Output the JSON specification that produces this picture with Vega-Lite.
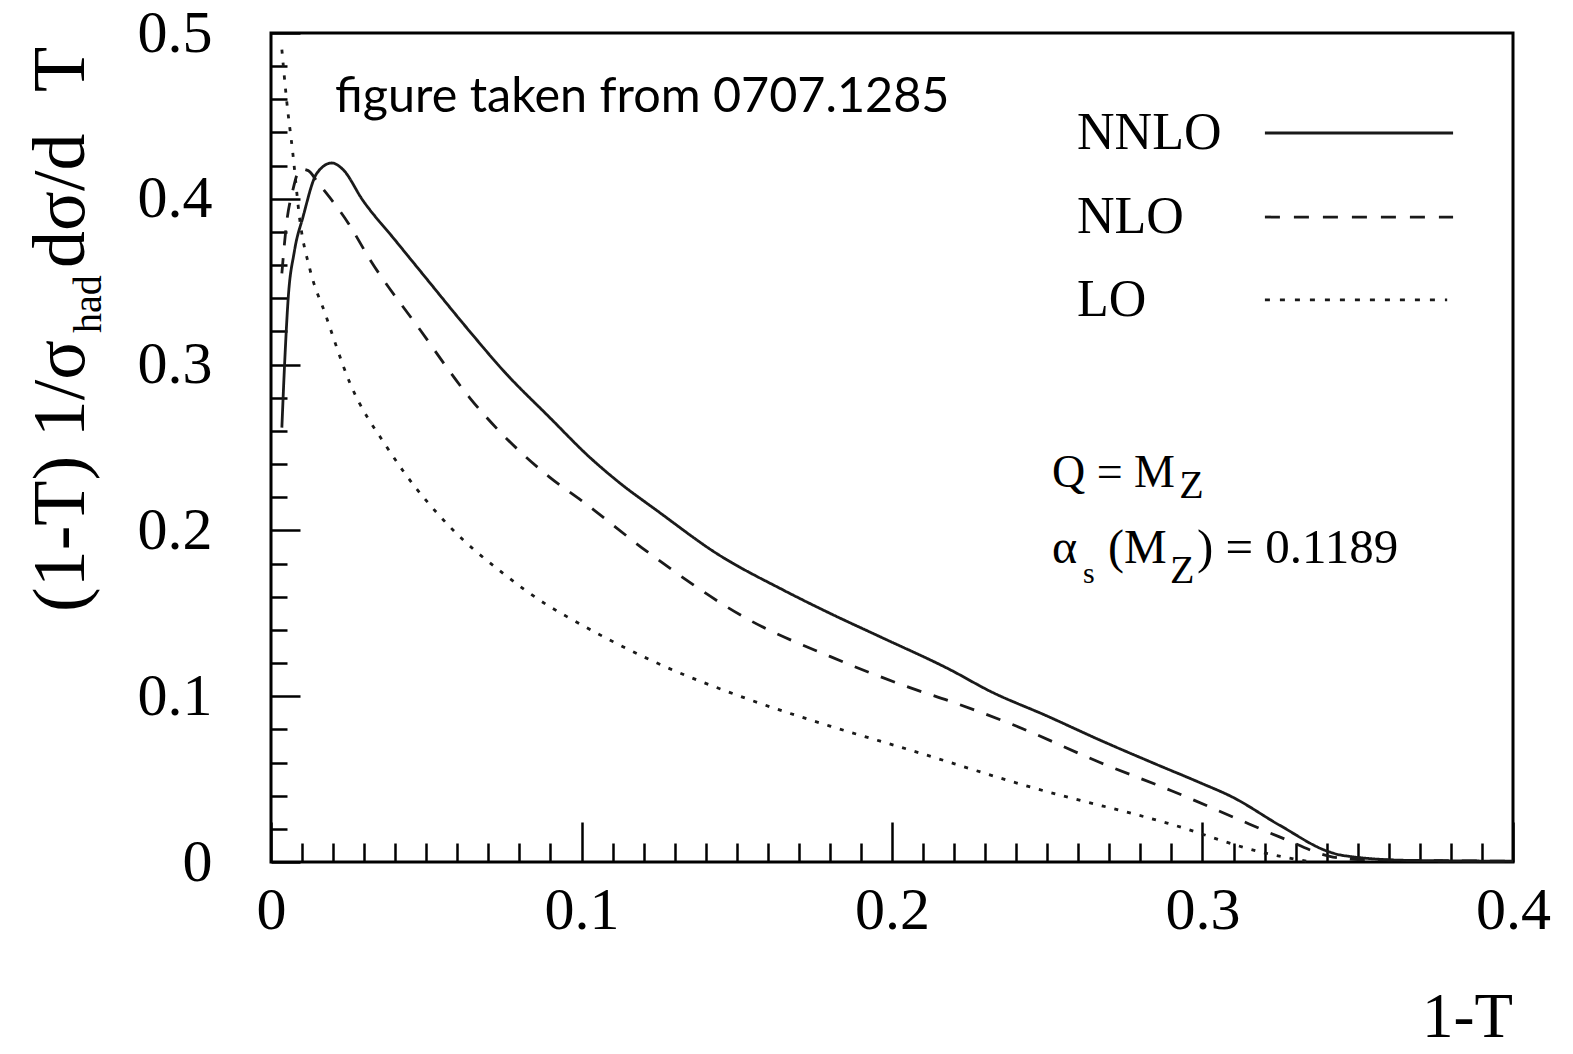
{
  "$schema": "https://vega.github.io/schema/vega-lite/v6.json",
  "autosize": {"type": "none"},
  "padding": {"left": 271, "top": 33, "right": 60, "bottom": 192},
  "width": 1242,
  "height": 829,
  "background": "white",
  "config": {"view": {"stroke": "#000", "strokeWidth": 3}},
  "datasets": {
    "one": [{}],
    "curves": [
      {"series": "NNLO", "t": 0.0035, "v": 0.262},
      {"series": "NNLO", "t": 0.0045, "v": 0.305},
      {"series": "NNLO", "t": 0.0055, "v": 0.339},
      {"series": "NNLO", "t": 0.0075, "v": 0.368},
      {"series": "NNLO", "t": 0.0103, "v": 0.389},
      {"series": "NNLO", "t": 0.0148, "v": 0.4155},
      {"series": "NNLO", "t": 0.0196, "v": 0.4216},
      {"series": "NNLO", "t": 0.023, "v": 0.418},
      {"series": "NNLO", "t": 0.0296, "v": 0.399},
      {"series": "NNLO", "t": 0.04, "v": 0.375},
      {"series": "NNLO", "t": 0.05, "v": 0.352},
      {"series": "NNLO", "t": 0.064, "v": 0.32},
      {"series": "NNLO", "t": 0.075, "v": 0.296},
      {"series": "NNLO", "t": 0.0898, "v": 0.268},
      {"series": "NNLO", "t": 0.1027, "v": 0.244},
      {"series": "NNLO", "t": 0.1114, "v": 0.23},
      {"series": "NNLO", "t": 0.125, "v": 0.211},
      {"series": "NNLO", "t": 0.1436, "v": 0.186},
      {"series": "NNLO", "t": 0.165, "v": 0.164},
      {"series": "NNLO", "t": 0.18, "v": 0.15},
      {"series": "NNLO", "t": 0.196, "v": 0.136},
      {"series": "NNLO", "t": 0.2187, "v": 0.116},
      {"series": "NNLO", "t": 0.2316, "v": 0.103},
      {"series": "NNLO", "t": 0.25, "v": 0.088},
      {"series": "NNLO", "t": 0.267, "v": 0.0735},
      {"series": "NNLO", "t": 0.285, "v": 0.059},
      {"series": "NNLO", "t": 0.299, "v": 0.048},
      {"series": "NNLO", "t": 0.3098, "v": 0.039},
      {"series": "NNLO", "t": 0.325, "v": 0.022},
      {"series": "NNLO", "t": 0.341, "v": 0.006},
      {"series": "NNLO", "t": 0.345, "v": 0.004},
      {"series": "NNLO", "t": 0.366, "v": 0.001},
      {"series": "NNLO", "t": 0.4, "v": 0.0005},
      {"series": "NLO", "t": 0.0035, "v": 0.355},
      {"series": "NLO", "t": 0.005, "v": 0.385},
      {"series": "NLO", "t": 0.007, "v": 0.405},
      {"series": "NLO", "t": 0.0095, "v": 0.418},
      {"series": "NLO", "t": 0.012, "v": 0.417},
      {"series": "NLO", "t": 0.015, "v": 0.41},
      {"series": "NLO", "t": 0.025, "v": 0.385},
      {"series": "NLO", "t": 0.032, "v": 0.363},
      {"series": "NLO", "t": 0.048, "v": 0.321},
      {"series": "NLO", "t": 0.064, "v": 0.28},
      {"series": "NLO", "t": 0.0898, "v": 0.232},
      {"series": "NLO", "t": 0.1, "v": 0.218},
      {"series": "NLO", "t": 0.122, "v": 0.186},
      {"series": "NLO", "t": 0.154, "v": 0.146},
      {"series": "NLO", "t": 0.18, "v": 0.124},
      {"series": "NLO", "t": 0.206, "v": 0.105},
      {"series": "NLO", "t": 0.2187, "v": 0.097},
      {"series": "NLO", "t": 0.24, "v": 0.082},
      {"series": "NLO", "t": 0.267, "v": 0.06},
      {"series": "NLO", "t": 0.29, "v": 0.043},
      {"series": "NLO", "t": 0.31, "v": 0.027},
      {"series": "NLO", "t": 0.325, "v": 0.015},
      {"series": "NLO", "t": 0.342, "v": 0.003},
      {"series": "NLO", "t": 0.35, "v": 0.0015},
      {"series": "NLO", "t": 0.4, "v": 0.0005},
      {"series": "LO", "t": 0.0035, "v": 0.49},
      {"series": "LO", "t": 0.005, "v": 0.46},
      {"series": "LO", "t": 0.007, "v": 0.428},
      {"series": "LO", "t": 0.0093, "v": 0.387},
      {"series": "LO", "t": 0.0126, "v": 0.357},
      {"series": "LO", "t": 0.0174, "v": 0.331},
      {"series": "LO", "t": 0.0254, "v": 0.289},
      {"series": "LO", "t": 0.0374, "v": 0.25},
      {"series": "LO", "t": 0.0425, "v": 0.236},
      {"series": "LO", "t": 0.0577, "v": 0.202},
      {"series": "LO", "t": 0.0748, "v": 0.174},
      {"series": "LO", "t": 0.0898, "v": 0.154},
      {"series": "LO", "t": 0.0953, "v": 0.148},
      {"series": "LO", "t": 0.122, "v": 0.122},
      {"series": "LO", "t": 0.154, "v": 0.098},
      {"series": "LO", "t": 0.18, "v": 0.082},
      {"series": "LO", "t": 0.205, "v": 0.068},
      {"series": "LO", "t": 0.245, "v": 0.045},
      {"series": "LO", "t": 0.2886, "v": 0.0235},
      {"series": "LO", "t": 0.321, "v": 0.005},
      {"series": "LO", "t": 0.335, "v": 0.0}
    ]
  },
  "resolve": {"axis": {"x": "independent", "y": "independent"}},
  "layer": [
    {
      "data": {"name": "curves"},
      "mark": {"type": "line", "strokeWidth": 2.8, "color": "#1a1a1a", "interpolate": "monotone"},
      "encoding": {
        "x": {"field": "t", "type": "quantitative",
          "scale": {"domain": [0, 0.4], "nice": false, "zero": false},
          "axis": {"orient": "bottom", "values": [0, 0.1, 0.2, 0.3, 0.4], "format": "~g",
            "tickSize": -40, "tickWidth": 2.5, "tickColor": "#000", "domain": false, "grid": false,
            "labelFont": "Liberation Serif", "labelFontSize": 60, "labelColor": "#000",
            "labelPadding": 59, "labelBaseline": "top", "labelFlush": false, "labelOverlap": false, "title": null}},
        "y": {"field": "v", "type": "quantitative",
          "scale": {"domain": [0, 0.5], "nice": false, "zero": false},
          "axis": {"orient": "left", "values": [0, 0.1, 0.2, 0.3, 0.4, 0.5], "format": "~g",
            "tickSize": -29, "tickWidth": 2.5, "tickColor": "#000", "domain": false, "grid": false,
            "labelFont": "Liberation Serif", "labelFontSize": 60, "labelColor": "#000",
            "labelPadding": 88, "labelBaseline": "middle", "labelFlush": false, "labelOverlap": false, "title": null}},
        "strokeDash": {"field": "series", "type": "nominal",
          "scale": {"domain": ["NNLO", "NLO", "LO"], "range": [[1, 0], [15, 13], [4, 9]]},
          "legend": null}
      }
    },
    {
      "data": {"name": "one"},
      "mark": {"type": "text", "text": "figure taken from 0707.1285", "font": "Lato", "fontSize": 48.5, "align": "left", "baseline": "middle", "color": "#000"},
      "encoding": {
        "x": {"datum": 0.0206, "type": "quantitative",
          "axis": {"orient": "bottom", "values": [0.01,0.02,0.03,0.04,0.05,0.06,0.07,0.08,0.09,0.11,0.12,0.13,0.14,0.15,0.16,0.17,0.18,0.19,0.21,0.22,0.23,0.24,0.25,0.26,0.27,0.28,0.29,0.31,0.32,0.33,0.34,0.35,0.36,0.37,0.38,0.39],
            "tickSize": -19, "tickWidth": 2.5, "tickColor": "#000", "domain": false, "grid": false, "labels": false, "title": null}},
        "y": {"datum": 0.4614, "type": "quantitative",
          "axis": {"orient": "left", "values": [0.02,0.04,0.06,0.08,0.12,0.14,0.16,0.18,0.22,0.24,0.26,0.28,0.32,0.34,0.36,0.38,0.42,0.44,0.46,0.48],
            "tickSize": -16, "tickWidth": 2.5, "tickColor": "#000", "domain": false, "grid": false, "labels": false, "title": null}}
      }
    },
    {
      "data": {"name": "one"},
      "mark": {"type": "rule", "strokeWidth": 2.8, "color": "#1a1a1a"},
      "encoding": {"x": {"datum": 0.3201, "type": "quantitative", "axis": null}, "x2": {"datum": 0.3807}, "y": {"datum": 0.4397, "type": "quantitative", "axis": null}}
    },
    {
      "data": {"name": "one"},
      "mark": {"type": "rule", "strokeWidth": 2.8, "color": "#1a1a1a", "strokeDash": [15, 14]},
      "encoding": {"x": {"datum": 0.3201, "type": "quantitative", "axis": null}, "x2": {"datum": 0.3807}, "y": {"datum": 0.389, "type": "quantitative", "axis": null}}
    },
    {
      "data": {"name": "one"},
      "mark": {"type": "rule", "strokeWidth": 2.8, "color": "#1a1a1a", "strokeDash": [5, 10]},
      "encoding": {"x": {"datum": 0.3201, "type": "quantitative", "axis": null}, "x2": {"datum": 0.3788}, "y": {"datum": 0.339, "type": "quantitative", "axis": null}}
    },
    {
      "data": {"name": "one"},
      "mark": {"type": "text", "text": "NNLO", "font": "Liberation Serif", "fontSize": 52, "align": "left", "baseline": "middle", "color": "#000"},
      "encoding": {"x": {"datum": 0.2596, "type": "quantitative", "axis": null}, "y": {"datum": 0.4397, "type": "quantitative", "axis": null}}
    },
    {
      "data": {"name": "one"},
      "mark": {"type": "text", "text": "NLO", "font": "Liberation Serif", "fontSize": 52, "align": "left", "baseline": "middle", "color": "#000"},
      "encoding": {"x": {"datum": 0.2596, "type": "quantitative", "axis": null}, "y": {"datum": 0.389, "type": "quantitative", "axis": null}}
    },
    {
      "data": {"name": "one"},
      "mark": {"type": "text", "text": "LO", "font": "Liberation Serif", "fontSize": 52, "align": "left", "baseline": "middle", "color": "#000"},
      "encoding": {"x": {"datum": 0.2596, "type": "quantitative", "axis": null}, "y": {"datum": 0.339, "type": "quantitative", "axis": null}}
    },
    {
      "data": {"name": "one"},
      "mark": {"type": "text", "text": "Q = M", "font": "Liberation Serif", "fontSize": 46, "align": "left", "baseline": "alphabetic", "color": "#000"},
      "encoding": {"x": {"datum": 0.2515, "type": "quantitative", "axis": null}, "y": {"datum": 0.2262, "type": "quantitative", "axis": null}}
    },
    {
      "data": {"name": "one"},
      "mark": {"type": "text", "text": "Z", "font": "Liberation Serif", "fontSize": 40, "align": "left", "baseline": "alphabetic", "color": "#000"},
      "encoding": {"x": {"datum": 0.2925, "type": "quantitative", "axis": null}, "y": {"datum": 0.2195, "type": "quantitative", "axis": null}}
    },
    {
      "data": {"name": "one"},
      "mark": {"type": "text", "text": "α", "font": "Liberation Serif", "fontSize": 48, "align": "left", "baseline": "alphabetic", "color": "#000"},
      "encoding": {"x": {"datum": 0.2515, "type": "quantitative", "axis": null}, "y": {"datum": 0.1803, "type": "quantitative", "axis": null}}
    },
    {
      "data": {"name": "one"},
      "mark": {"type": "text", "text": "s", "font": "Liberation Serif", "fontSize": 30, "align": "left", "baseline": "alphabetic", "color": "#000"},
      "encoding": {"x": {"datum": 0.2615, "type": "quantitative", "axis": null}, "y": {"datum": 0.1683, "type": "quantitative", "axis": null}}
    },
    {
      "data": {"name": "one"},
      "mark": {"type": "text", "text": "(M", "font": "Liberation Serif", "fontSize": 48, "align": "left", "baseline": "alphabetic", "color": "#000"},
      "encoding": {"x": {"datum": 0.2696, "type": "quantitative", "axis": null}, "y": {"datum": 0.1803, "type": "quantitative", "axis": null}}
    },
    {
      "data": {"name": "one"},
      "mark": {"type": "text", "text": "Z", "font": "Liberation Serif", "fontSize": 40, "align": "left", "baseline": "alphabetic", "color": "#000"},
      "encoding": {"x": {"datum": 0.2895, "type": "quantitative", "axis": null}, "y": {"datum": 0.1683, "type": "quantitative", "axis": null}}
    },
    {
      "data": {"name": "one"},
      "mark": {"type": "text", "text": ") = 0.1189", "font": "Liberation Serif", "fontSize": 49, "align": "left", "baseline": "alphabetic", "color": "#000"},
      "encoding": {"x": {"datum": 0.2982, "type": "quantitative", "axis": null}, "y": {"datum": 0.1803, "type": "quantitative", "axis": null}}
    },
    {
      "data": {"name": "one"},
      "mark": {"type": "text", "text": "1-T", "font": "Liberation Serif", "fontSize": 63, "align": "right", "baseline": "alphabetic", "color": "#000"},
      "encoding": {"x": {"datum": 0.4, "type": "quantitative", "axis": null}, "y": {"datum": -0.1055, "type": "quantitative", "axis": null}}
    },
    {
      "data": {"name": "one"},
      "mark": {"type": "text", "text": "(1-T) 1/σ", "font": "Liberation Serif", "fontSize": 74, "align": "left", "baseline": "alphabetic", "angle": 270, "color": "#000"},
      "encoding": {"x": {"datum": -0.0602, "type": "quantitative", "axis": null}, "y": {"datum": 0.1508, "type": "quantitative", "axis": null}}
    },
    {
      "data": {"name": "one"},
      "mark": {"type": "text", "text": "had", "font": "Liberation Serif", "fontSize": 40, "align": "left", "baseline": "alphabetic", "angle": 270, "color": "#000"},
      "encoding": {"x": {"datum": -0.0548, "type": "quantitative", "axis": null}, "y": {"datum": 0.319, "type": "quantitative", "axis": null}}
    },
    {
      "data": {"name": "one"},
      "mark": {"type": "text", "text": "dσ/d", "font": "Liberation Serif", "fontSize": 74, "align": "left", "baseline": "alphabetic", "angle": 270, "color": "#000"},
      "encoding": {"x": {"datum": -0.0602, "type": "quantitative", "axis": null}, "y": {"datum": 0.3583, "type": "quantitative", "axis": null}}
    },
    {
      "data": {"name": "one"},
      "mark": {"type": "text", "text": "T", "font": "Liberation Serif", "fontSize": 74, "align": "left", "baseline": "alphabetic", "angle": 270, "color": "#000"},
      "encoding": {"x": {"datum": -0.0602, "type": "quantitative", "axis": null}, "y": {"datum": 0.4644, "type": "quantitative", "axis": null}}
    }
  ]
}
